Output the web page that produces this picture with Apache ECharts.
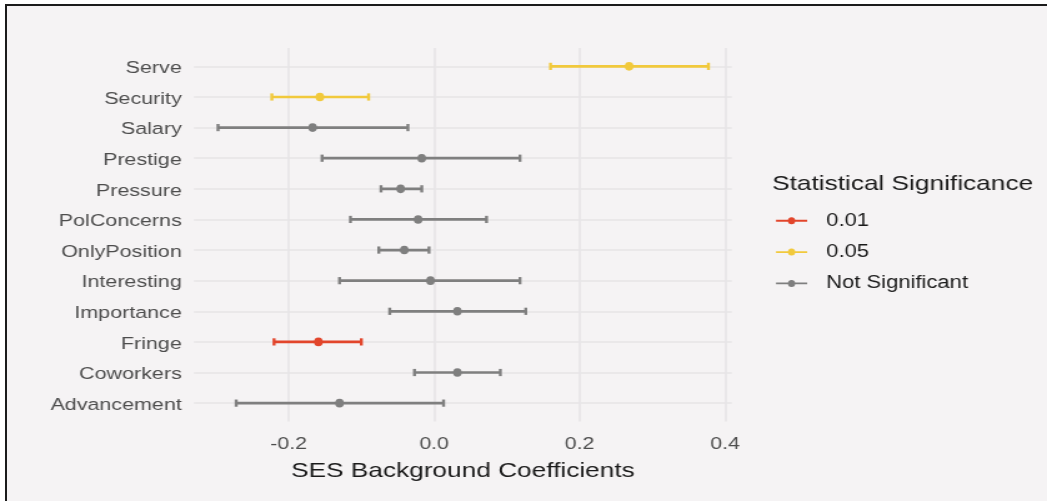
<!DOCTYPE html>
<html>
<head>
<meta charset="utf-8">
<script src="https://cdn.jsdelivr.net/npm/echarts@6/dist/echarts.min.js"></script>
<style>
html,body{margin:0;padding:0;background:#ffffff;width:1047px;height:501px;overflow:hidden;}
#frame{position:absolute;left:5px;top:4px;right:0;bottom:0;border-left:2px solid #1b1b1b;border-top:2px solid #1b1b1b;background:#f5f3f4;}
#chart{position:absolute;left:0;top:0;width:838px;height:501px;transform:scaleX(1.2494);transform-origin:0 0;}
</style>
</head>
<body>
<div id="frame"></div>
<div id="chart"></div>
<script>
// Data (bottom-to-top category order, as in the plot)
const categories = ['Advancement','Coworkers','Fringe','Importance','Interesting','OnlyPosition','PolConcerns','Pressure','Prestige','Salary','Security','Serve'];
const estimate   = [-0.130, 0.032, -0.159, 0.032, -0.005, -0.041, -0.022, -0.046, -0.017, -0.167, -0.157, 0.268];
const lower      = [-0.272, -0.027, -0.220, -0.061, -0.130, -0.076, -0.115, -0.073, -0.154, -0.297, -0.223, 0.160];
const upper      = [0.013, 0.091, -0.100, 0.126, 0.118, -0.007, 0.072, -0.017, 0.118, -0.036, -0.090, 0.377];
const significance = ['Not Significant','Not Significant','0.01','Not Significant','Not Significant','Not Significant','Not Significant','Not Significant','Not Significant','Not Significant','0.05','0.05'];
const groups = ['0.01','0.05','Not Significant'];
const xTicks = [-0.2, 0.0, 0.2, 0.4];
const xTitle = 'SES Background Coefficients';
const legendTitle = 'Statistical Significance';

const colors = {'0.01':'#e2452b','0.05':'#f1c93c','Not Significant':'#7f7f7f'};
const SX = 1047/838;
const FONT = "'Liberation Sans', Arial, sans-serif";
const idx = categories.map((c,i)=>i);

function makeSeries(group){
  const color = colors[group];
  const data = [];
  categories.forEach((c,i)=>{ if (significance[i]===group) data.push([lower[i], estimate[i], upper[i], i]); });
  return {
    type:'custom', name:group, coordinateSystem:'cartesian2d',
    itemStyle:{color:color},
    encode:{x:[0,1,2], y:3},
    data:data,
    renderItem:function(params, api){
      const y = api.value(3);
      const a = api.coord([api.value(0), y]);
      const m = api.coord([api.value(1), y]);
      const b = api.coord([api.value(2), y]);
      const capH = 3.6;
      return {type:'group', children:[
        {type:'line', shape:{x1:a[0],y1:a[1],x2:b[0],y2:b[1]}, style:{stroke:color,lineWidth:2.7}},
        {type:'line', shape:{x1:a[0],y1:a[1]-capH,x2:a[0],y2:a[1]+capH}, style:{stroke:color,lineWidth:2.4}},
        {type:'line', shape:{x1:b[0],y1:b[1]-capH,x2:b[0],y2:b[1]+capH}, style:{stroke:color,lineWidth:2.4}},
        {type:'circle', x:m[0], y:m[1], scaleX:1/SX, shape:{cx:0,cy:0,r:4.3}, style:{fill:color}}
      ]};
    }
  };
}

const iconPath = 'path://M0,2.5L25.6,2.5L25.6,4.5L0,4.5Z M9.8,3.5A3,3.6 0 1,1 15.8,3.5A3,3.6 0 1,1 9.8,3.5Z';

const chart = echarts.init(document.getElementById('chart'), null, {renderer:'canvas'});
chart.setOption({
  animation:false,
  backgroundColor:'transparent',
  textStyle:{fontFamily:FONT},
  grid:{left:194/SX, right:838-731.7/SX, top:48, bottom:501-421.5, containLabel:false},
  title:{text:legendTitle, left:772/SX, top:174, padding:0,
    textStyle:{fontSize:21, fontWeight:'normal', color:'#1a1a1a', fontFamily:FONT}},
  legend:{orient:'vertical', left:776/SX, top:211.8, padding:0, itemWidth:25.6, itemHeight:7, itemGap:13.3,
    selectedMode:false,
    data:groups.map(g=>({name:g, icon:iconPath, itemStyle:{color:colors[g]}})),
    textStyle:{fontSize:17.6, color:'#1a1a1a', fontFamily:FONT, padding:[0,0,0,10]}},
  xAxis:{type:'value', min:-0.33, max:0.409,
    name:xTitle, nameLocation:'middle', nameGap:39,
    nameTextStyle:{fontSize:21, color:'#1a1a1a', fontFamily:FONT},
    axisLine:{show:false}, axisTick:{show:false, customValues:xTicks},
    axisLabel:{customValues:xTicks, formatter:v=>v.toFixed(1), fontSize:17, color:'#4d4d4d', margin:14.5},
    splitLine:{show:true, lineStyle:{color:'#e6e4e6', width:1.6}}},
  yAxis:{type:'value', min:-0.6, max:11.6,
    axisLine:{show:false}, axisTick:{show:false, customValues:idx},
    axisLabel:{customValues:idx, formatter:v=>'{l|' + categories[Math.round(v)] + '}', margin:9.8,
      rich:{l:{fontSize:17.2, color:'#4d4d4d', fontFamily:FONT, padding:[4,0,0,0]}}},
    splitLine:{show:true, lineStyle:{color:'#e6e4e6', width:1.5}}},
  series:groups.map(makeSeries)
});
</script>
</body>
</html>
